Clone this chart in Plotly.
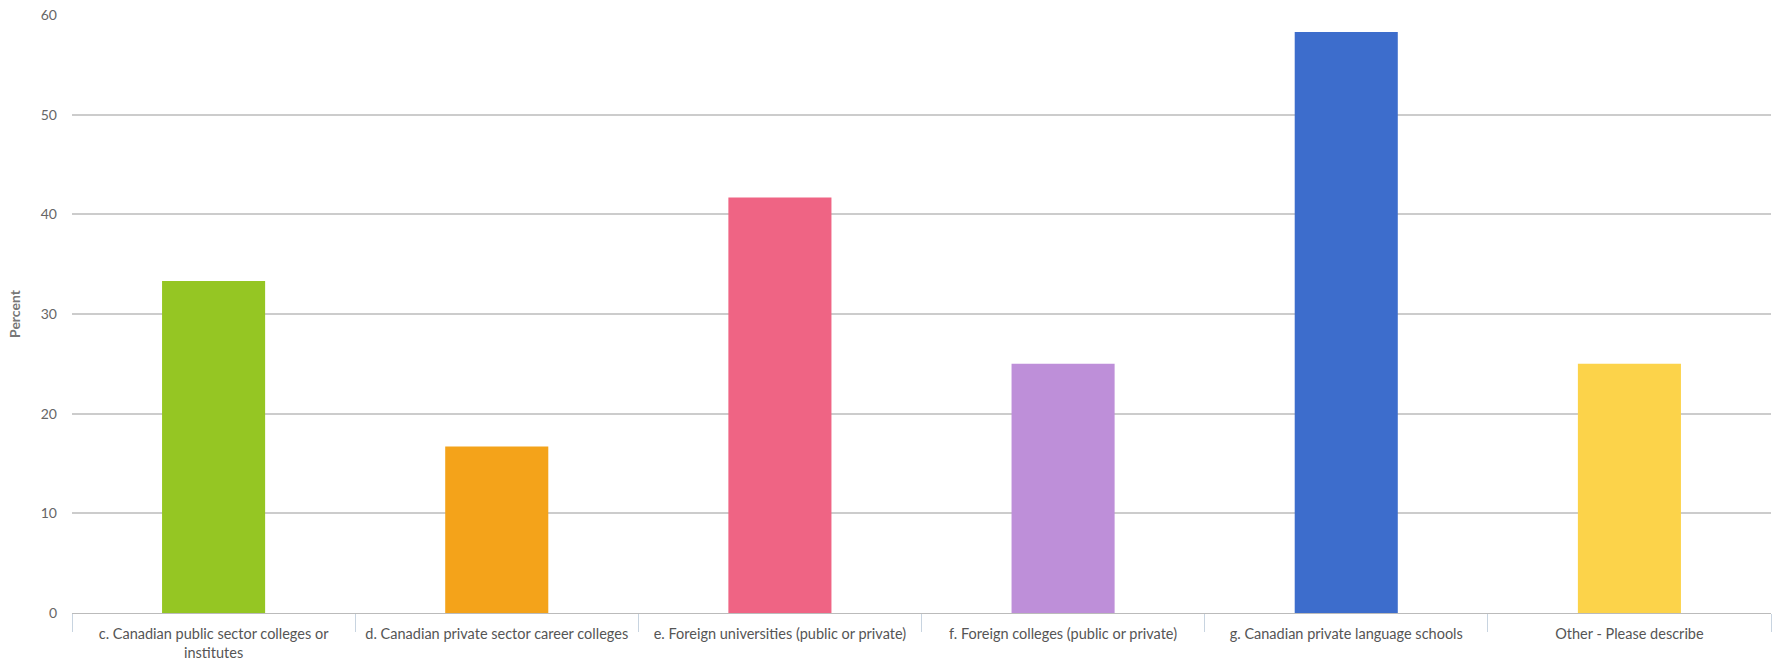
import plotly.graph_objects as go

categories = [
    "c. Canadian public sector colleges or<br>institutes",
    "d. Canadian private sector career colleges",
    "e. Foreign universities (public or private)",
    "f. Foreign colleges (public or private)",
    "g. Canadian private language schools",
    "Other - Please describe",
]
values = [33.3, 16.7, 41.7, 25.0, 58.3, 25.0]
colors = ["#95C623", "#F4A31A", "#EF6484", "#BE8FD9", "#3D6DCC", "#FCD34A"]

fig = go.Figure(go.Bar(x=categories, y=values, marker=dict(color=colors, line=dict(width=0))))

fig.update_layout(
    width=1775, height=672,
    margin=dict(l=72, r=4, t=15, b=59),
    paper_bgcolor="white", plot_bgcolor="white",
    bargap=0.636, showlegend=False,
    font=dict(family="Lato", size=14, color="#555"),
)
fig.update_xaxes(
    type="category", tickson="boundaries", ticks="outside", ticklen=18,
    tickcolor="#c8d4e0", showline=True, linecolor="#bbb", linewidth=1,
    showgrid=False, ticklabelstandoff=8,
    tickfont=dict(family="Lato", size=14.5, color="#555"),
)
fig.update_yaxes(
    range=[0, 60], dtick=10, showgrid=True, gridcolor="#cccccc", gridwidth=1.5,
    zeroline=False, showline=False, ticks="", ticklabelstandoff=14,
    tickfont=dict(family="Lato", size=14, color="#666"),
    title=dict(text="<b>Percent</b>", font=dict(family="Lato", size=14, color="#777"), standoff=16),
)
fig.write_html("out.html")
